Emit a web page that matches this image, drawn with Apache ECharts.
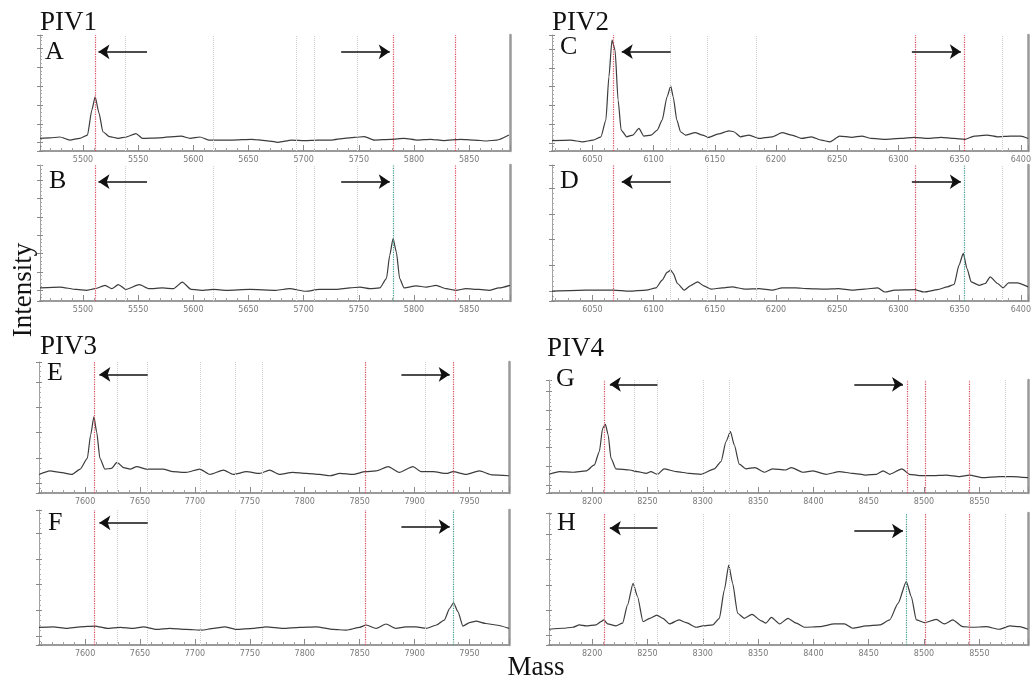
<!DOCTYPE html>
<html>
<head>
<meta charset="utf-8">
<script src="https://cdn.jsdelivr.net/npm/echarts@6/dist/echarts.min.js"></script>
<style>html,body{margin:0;padding:0;background:#fff}#c{width:1034px;height:684px}</style>
</head>
<body>
<div id="c"></div>
<script>
// ---------------- DATA (mass in Da, intensity in arbitrary units) ----------------
const massA = [5461,5470,5479,5488,5497,5504,5508,5511,5514.5,5518,5524,5532,5539,5548,5554,5569,5589,5597,5606,5614,5635,5653,5665,5677,5689,5701,5713,5725,5737,5746,5755,5764,5779,5791,5803,5815,5827,5842,5854,5866,5875,5886];
const intA  = [0.23,0.25,0.30,0.14,0.23,0.40,1.73,2.43,1.56,0.58,0.32,0.23,0.30,0.48,0.23,0.26,0.35,0.23,0.30,0.14,0.14,0.18,0.11,0.02,0.14,0.11,0.14,0.14,0.23,0.28,0.32,0.14,0.18,0.23,0.14,0.18,0.11,0.18,0.14,0.09,0.14,0.41];

const massB = [5461,5479,5494,5503,5511,5520,5526,5532,5539,5551,5560,5572,5582,5590,5598,5609,5618,5630,5651,5675,5687,5702,5714,5730,5742,5751,5760,5769,5775,5778,5781,5784,5787,5791,5802,5811,5820,5829,5838,5847,5859,5868,5877,5887];
const intB  = [0.13,0.18,0.05,0.0,0.09,0.27,0.09,0.31,0.05,0.31,0.09,0.13,0.09,0.45,0.05,0.0,0.05,0.0,0.05,0.0,0.09,-0.05,0.05,0.05,0.13,0.18,0.09,0.13,0.64,1.91,2.82,2.09,0.64,0.13,0.24,0.18,0.27,0.09,0.0,0.09,0.05,0.0,0.13,0.27];

const massC = [6017,6032,6042,6050.5,6057,6061,6063.5,6066,6068.5,6071,6073.5,6078,6083,6088,6092,6098,6103,6107,6111,6114,6116,6119,6122,6126,6134,6140,6145,6153,6161.5,6165.5,6171,6178,6186,6197,6205,6213,6221,6229,6237,6244,6252,6262,6270,6278,6289,6302,6313,6324,6335,6345.5,6354,6362,6372.5,6381,6391.5,6400,6406];
const intC  = [0.11,0.14,0.05,0.14,0.32,1.21,3.53,5.49,4.96,2.28,0.68,0.32,0.41,0.77,0.36,0.41,0.68,1.21,2.46,3.03,2.46,1.21,0.59,0.41,0.54,0.41,0.29,0.47,0.64,0.59,0.32,0.41,0.23,0.32,0.54,0.41,0.23,0.32,0.14,0.05,0.36,0.29,0.36,0.23,0.18,0.23,0.29,0.23,0.29,0.23,0.18,0.36,0.41,0.32,0.36,0.36,0.23];

const massD = [6017,6045,6067,6080,6094,6102,6107,6111,6114,6116,6119.5,6125,6130,6136,6141,6147,6156,6164,6175,6186,6197,6205,6216,6226,6240,6251,6262,6272,6283,6289,6297,6313,6321,6332,6340,6345.5,6349.5,6353,6356,6359.5,6366,6371,6375,6381,6385.5,6390,6397,6406];
const intD  = [0.0,0.04,0.04,0.0,0.04,0.13,0.43,0.73,0.82,0.69,0.30,0.04,0.21,0.36,0.21,0.08,0.13,0.17,0.08,0.10,0.04,0.13,0.13,0.10,0.08,0.10,0.04,0.08,0.13,-0.03,0.04,0.06,-0.03,0.06,0.17,0.26,1.01,1.47,0.88,0.36,0.23,0.30,0.56,0.30,0.13,0.32,0.32,0.17];

const massE = [7558,7568,7577,7588,7595.5,7602,7605,7608,7610.5,7613.5,7618,7624,7629,7635,7641,7647,7656,7671,7680,7692,7704.5,7713.5,7726,7735,7747,7759,7768,7777,7789,7801.5,7813.5,7823,7832,7844,7855,7865,7876,7886,7898.5,7906,7917,7929,7935,7947,7959,7971,7986];
const intE  = [0.35,0.49,0.43,0.35,0.56,0.98,1.90,2.62,2.03,0.98,0.56,0.59,0.83,0.62,0.56,0.66,0.56,0.56,0.46,0.43,0.56,0.35,0.52,0.35,0.46,0.39,0.52,0.35,0.43,0.39,0.35,0.30,0.39,0.35,0.46,0.49,0.66,0.43,0.66,0.46,0.46,0.39,0.46,0.35,0.49,0.33,0.30];

const massF = [7558,7571,7583,7595.5,7609,7620,7632,7644,7653,7665,7677,7692,7706,7717,7727,7738,7753,7765,7780,7795.5,7810.5,7826,7838,7850,7856,7865,7874,7883,7892,7901.5,7910.5,7920,7927,7932,7935.5,7939.5,7944,7950,7956,7965,7974,7986];
const intF  = [0.33,0.35,0.29,0.35,0.38,0.29,0.33,0.29,0.35,0.25,0.29,0.25,0.22,0.29,0.35,0.25,0.29,0.35,0.29,0.33,0.35,0.25,0.22,0.33,0.42,0.29,0.46,0.29,0.35,0.35,0.29,0.42,0.61,1.07,1.29,0.94,0.38,0.51,0.57,0.48,0.42,0.29];

const massG = [8161,8170.5,8182.5,8194.5,8202,8206.5,8209.5,8212,8214.5,8217,8221.5,8234,8241,8249,8253,8259,8265,8276,8288,8298.5,8310.5,8316.5,8321,8325,8328.5,8333,8339,8347,8356,8363,8375,8380,8390.5,8399.5,8411.5,8423.5,8435.5,8447.5,8457,8463,8469,8480,8487,8496,8508,8520,8532,8541,8553,8568,8580,8594];
const intG  = [0.57,0.71,0.68,0.75,1.07,1.78,3.03,3.24,2.67,1.43,0.86,0.80,0.71,0.62,0.71,0.57,0.86,0.71,0.62,0.57,0.86,1.25,2.32,2.85,2.14,1.11,0.86,0.93,0.68,0.86,0.80,0.93,0.68,0.75,0.57,0.71,0.62,0.53,0.57,0.75,0.57,0.86,0.57,0.50,0.50,0.53,0.45,0.53,0.39,0.45,0.45,0.39];

const massH = [8161,8173.5,8182.5,8188.5,8194.5,8203.5,8208,8210.5,8214,8221.5,8227.5,8232,8237,8241,8246,8252,8258.5,8264,8270,8278.5,8285,8294,8300,8309,8315,8319.5,8323.5,8327,8331.5,8337.5,8344.5,8353,8357,8362,8369.5,8377,8384.5,8392,8405.5,8419,8428,8435.5,8447.5,8460,8469,8476.5,8484,8488.5,8493,8500.5,8511,8518.5,8526,8535,8544,8556,8568,8577.5,8586.5,8594];
const intH  = [0.25,0.29,0.33,0.42,0.38,0.42,0.55,0.62,0.46,0.38,0.49,1.21,2.06,1.54,0.55,0.68,0.81,0.68,0.46,0.62,0.51,0.33,0.38,0.42,0.68,1.80,2.78,2.06,0.88,0.68,0.84,0.58,0.49,0.72,0.46,0.68,0.49,0.33,0.35,0.46,0.46,0.29,0.38,0.42,0.62,1.27,2.13,1.54,0.62,0.51,0.64,0.46,0.62,0.35,0.33,0.35,0.25,0.38,0.35,0.25];

// reference mass lines (dotted verticals)
const redA = [5511,5781,5837], greenA = [],     grayA = [5538,5618,5693,5710,5749];
const redB = [5511,5837],      greenB = [5781], grayB = [5538,5618,5693,5710,5749];
const redC = [6067,6314,6354], greenC = [],     grayC = [6114,6144,6184,6385];
const redD = [6067,6314],      greenD = [6354], grayD = [6114,6144,6184,6385];
const redE = [7608,7855,7935], greenE = [],     grayE = [7629,7657,7705,7737,7761,7910];
const redF = [7608,7855],      greenF = [7935], grayF = [7629,7657,7705,7737,7761,7910];
const redG = [8211,8485,8501,8541], greenG = [],     grayG = [8238,8259,8300,8324,8573];
const redH = [8211,8501,8541],      greenH = [8484], grayH = [8238,8259,8300,8324,8573];

// arrows: [fromMass, toMass, intensity level]
const arrowsA = [[5558,5514,4.81],[5734,5778,4.81]];
const arrowsB = [[5558,5514,5.92],[5734,5778,5.92]];
const arrowsC = [[6114,6074,4.87],[6311,6351,4.87]];
const arrowsD = [[6114,6074,4.25],[6311,6351,4.25]];
const arrowsE = [[7657,7613,4.29],[7888,7932,4.29]];
const arrowsF = [[7657,7613,4.41],[7888,7932,4.26]];
const arrowsG = [[8259,8216,5.38],[8437,8481,5.38]];
const arrowsH = [[8259,8216,4.23],[8437,8481,4.12]];

// ---------------- LAYOUT ----------------
const panels = [
  {mass:massA,inten:intA,red:redA,green:greenA,gray:grayA,arrows:arrowsA,x:[5461,5887],y:[-0.44,5.70],ys:6,g:{left:40,top:35,width:470,height:116}},
  {mass:massB,inten:intB,red:redB,green:greenB,gray:grayB,arrows:arrowsB,x:[5461,5887],y:[-0.58,6.83],ys:7,g:{left:40,top:165,width:470,height:136}},
  {mass:massC,inten:intC,red:redC,green:greenC,gray:grayC,arrows:arrowsC,x:[6017,6406],y:[-0.44,5.76],ys:6,g:{left:552,top:35,width:478,height:116}},
  {mass:massD,inten:intD,red:redD,green:greenD,gray:grayD,arrows:arrowsD,x:[6017,6406],y:[-0.38,4.90],ys:5,g:{left:552,top:165,width:478,height:136}},
  {mass:massE,inten:intE,red:redE,green:greenE,gray:grayE,arrows:arrowsE,x:[7558,7986],y:[-0.38,4.78],ys:5,g:{left:39,top:362,width:470,height:131}},
  {mass:massF,inten:intF,red:redF,green:greenF,gray:grayF,arrows:arrowsF,x:[7558,7986],y:[-0.36,4.91],ys:5,g:{left:39,top:510,width:470,height:135}},
  {mass:massG,inten:intG,red:redG,green:greenG,gray:grayG,arrows:arrowsG,x:[8161,8594],y:[-0.43,5.61],ys:6,g:{left:549,top:380,width:479,height:113}},
  {mass:massH,inten:intH,red:redH,green:greenH,gray:grayH,arrows:arrowsH,x:[8161,8594],y:[-0.37,4.83],ys:5,g:{left:549,top:513,width:479,height:132}}
];

const RED = '#d8475a', GREEN = '#3d9a86', GRAY = '#cfcfcf';
const grid = [], xAxis = [], yAxis = [], series = [];

panels.forEach((p, i) => {
  grid.push(Object.assign({containLabel:false}, p.g));
  xAxis.push({
    gridIndex:i, type:'value', min:p.x[0], max:p.x[1], splitNumber:9,
    axisLine:{show:true, onZero:false, lineStyle:{color:'#9a9a9a', width:2}},
    axisTick:{show:true, inside:true, length:6, lineStyle:{color:'#8a8a8a', width:1}},
    minorTick:{show:true, splitNumber:5, length:3, lineStyle:{color:'#a0a0a0', width:1}},
    axisLabel:{show:true, fontSize:8, color:'#7a7a7a', margin:5, showMinLabel:false, showMaxLabel:false,
      fontFamily:'DejaVu Sans', formatter: v => String(Math.round(v))},
    splitLine:{show:false}
  });
  const yBase = {gridIndex:i, type:'value', min:p.y[0], max:p.y[1], splitNumber:p.ys, splitLine:{show:false}, axisLabel:{show:false}};
  yAxis.push(Object.assign({}, yBase, {
    position:'left',
    axisLine:{show:true, onZero:false, lineStyle:{color:'#a0a0a0', width:1}},
    axisTick:{show:true, inside:true, length:3, lineStyle:{color:'#888'}},
    minorTick:{show:true, splitNumber:5, length:2, lineStyle:{color:'#aaa'}}
  }));
  yAxis.push(Object.assign({}, yBase, {
    position:'left',
    axisLine:{show:false, onZero:false},
    axisTick:{show:true, inside:false, length:3, lineStyle:{color:'#888'}}
  }));
  yAxis.push(Object.assign({}, yBase, {
    position:'right',
    axisLine:{show:true, onZero:false, lineStyle:{color:'#9a9a9a', width:2.5}},
    axisTick:{show:false}
  }));
  const vlines = [].concat(
    p.gray.map(v => ({xAxis:v, lineStyle:{color:GRAY, type:'dotted', width:1}})),
    p.red.map(v => ({xAxis:v, lineStyle:{color:RED, type:'dotted', width:1.2}})),
    p.green.map(v => ({xAxis:v, lineStyle:{color:GREEN, type:'dotted', width:1.2}}))
  );
  series.push({
    type:'line', xAxisIndex:i, yAxisIndex:3*i,
    data:p.mass.map((m, k) => [m, p.inten[k]]),
    showSymbol:false, smooth:0.2, smoothMonotone:'x', silent:true,
    lineStyle:{color:'#3c3c3c', width:1.2},
    markLine:{silent:true, symbol:'none', label:{show:false}, animation:false, data:vlines}
  });
  series.push({
    type:'line', xAxisIndex:i, yAxisIndex:3*i, data:[], silent:true,
    markLine:{silent:true, symbol:['none','arrow'], symbolSize:11, label:{show:false}, animation:false,
      lineStyle:{color:'#111', width:1.6, type:'solid'},
      data:p.arrows.map(a => [{coord:[a[0], a[2]]}, {coord:[a[1], a[2]]}])}
  });
});

const SERIF = '"Liberation Serif", "Times New Roman", serif';
function txt(t, x, y, size) {
  return {type:'text', x:x, y:y, silent:true, style:{text:t, font:size + 'px ' + SERIF, fill:'#111', align:'left', verticalAlign:'middle'}};
}
const graphic = [
  txt('PIV1', 40, 23, 27), txt('A', 45, 52, 26), txt('B', 49, 181, 26),
  txt('PIV2', 552, 23, 27), txt('C', 560, 47, 26), txt('D', 560, 181, 26),
  txt('PIV3', 40, 347, 27), txt('E', 47, 373, 26), txt('F', 48, 523, 26),
  txt('PIV4', 547, 349, 27), txt('G', 556, 379, 26), txt('H', 557, 523, 26),
  {type:'text', x:536, y:668, silent:true, style:{text:'Mass', font:'27px ' + SERIF, fill:'#111', align:'center', verticalAlign:'middle'}},
  {type:'text', x:24, y:290, rotation:Math.PI/2, silent:true, style:{text:'Intensity', font:'27px ' + SERIF, fill:'#111', align:'center', verticalAlign:'middle'}}
];

const chart = echarts.init(document.getElementById('c'), null, {renderer:'canvas'});
chart.setOption({animation:false, backgroundColor:'#fff', grid, xAxis, yAxis, series, graphic});
</script>
</body>
</html>
